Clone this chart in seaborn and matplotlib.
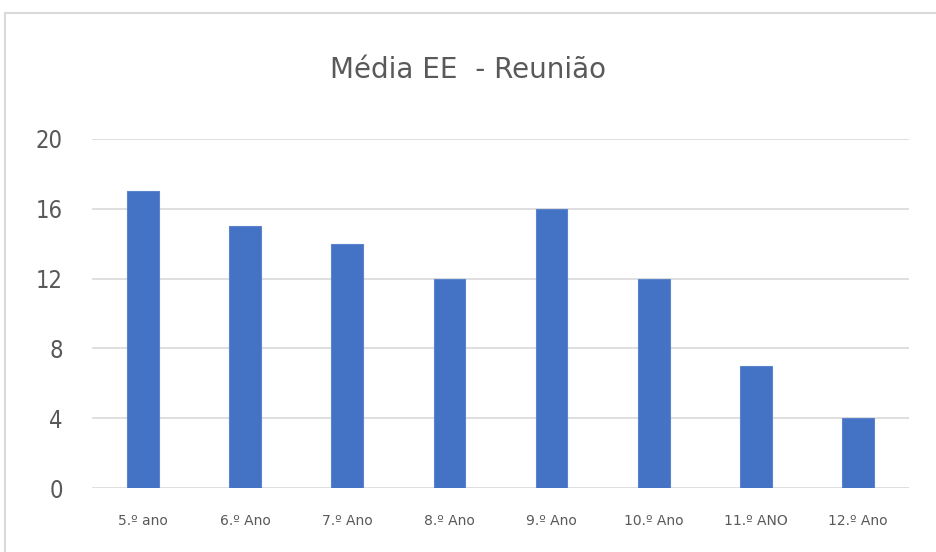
import matplotlib
matplotlib.use("Agg")
import matplotlib.pyplot as plt
from matplotlib.patches import Rectangle
import seaborn as sns
import pandas as pd

categories = ["5.º ano", "6.º Ano", "7.º Ano", "8.º Ano", "9.º Ano", "10.º Ano", "11.º ANO", "12.º Ano"]
values = [17, 15, 14, 12, 16, 12, 7, 4]
y_ticks = [0, 4, 8, 12, 16, 20]
title = "Média EE  - Reunião"

sns.set_theme(style="white")
plt.rcParams["font.family"] = ["DejaVu Sans"]

df = pd.DataFrame({"ano": categories, "media": values})

fig = plt.figure(figsize=(9.37, 5.52), dpi=100)
ax = fig.add_axes([92 / 937, 1 - 488 / 552, 817 / 937, 349 / 552])

sns.barplot(data=df, x="ano", y="media", color="#4472C4", width=0.31,
            saturation=1, ax=ax, zorder=3, edgecolor="#5B84CC", linewidth=0.8)

ax.set_ylim(0, 20)
ax.set_yticks(y_ticks)
ax.set_xlim(-0.5, len(categories) - 0.5)
ax.grid(axis="y", color="#D9D9D9", linewidth=1.2, zorder=0)
for s in ax.spines.values():
    s.set_visible(False)
ax.set_xlabel("")
ax.set_ylabel("")
ax.tick_params(axis="y", length=0, pad=21, labelsize=17, labelcolor="#595959")
ax.tick_params(axis="x", length=0, pad=19, labelsize=10, labelcolor="#595959")
for lbl in ax.get_yticklabels():
    lbl.set_fontstretch("condensed")

fig.text(0.5, 1 - 70 / 552, title, ha="center", va="center",
         fontsize=20, color="#595959")

# chart frame
fig.patches.append(Rectangle((5 / 937, -0.1), 1.2, 1 - 13 / 552 + 0.1,
                             transform=fig.transFigure, fill=False,
                             edgecolor="#D9D9D9", linewidth=1.5))

fig.savefig("out.png", dpi=100)
